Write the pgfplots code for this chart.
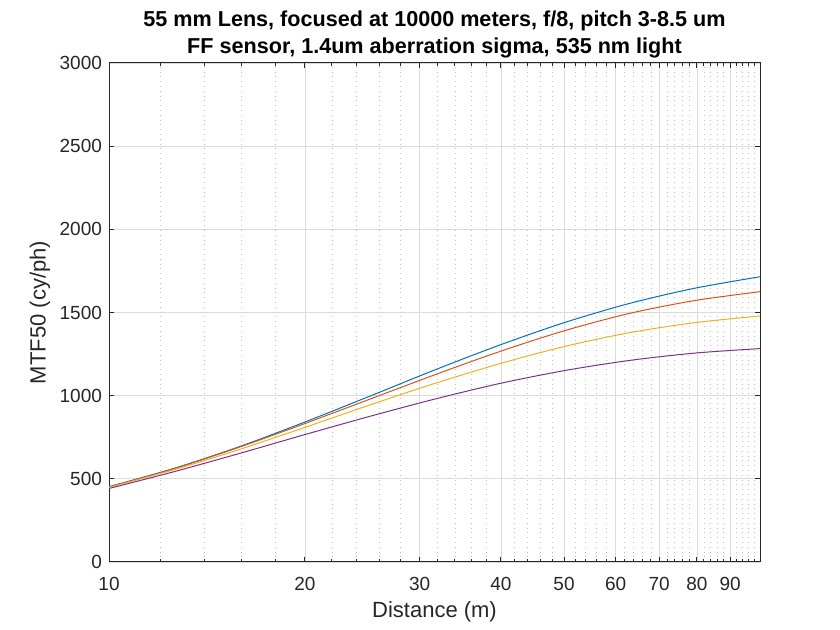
\documentclass[border=0pt]{standalone}
\usepackage{pgfplots}
\pgfplotsset{compat=1.18}
\usepackage{pgfplotstable}
\usepackage{fontspec}
\setmainfont{Liberation Sans}
\definecolor{mblue}{rgb}{0,0.447,0.741}
\definecolor{morange}{rgb}{0.85,0.325,0.098}
\definecolor{myellow}{rgb}{0.929,0.694,0.125}
\definecolor{mpurple}{rgb}{0.494,0.184,0.556}
\definecolor{axgray}{rgb}{0.15,0.15,0.15}
\pgfplotstableread{
d       b     o     y     p
10      453   451   449   442
12.589  563   561   555   543
15.849  693   690   676   652
19.953  840   831   808   765
25.119  996   978   943   875
31.623  1154  1125  1073  979
39.811  1304  1265  1192  1073
50.119  1440  1391  1296  1151
63.096  1555  1495  1379  1212
79.433  1646  1572  1439  1256
100     1715  1625  1479  1283
}\datatab
\begin{document}
\begin{tikzpicture}
\useasboundingbox (-54.5pt,-34pt) rectangle (365.5pt,281pt);
\begin{axis}[
  at={(0,0)}, anchor=south west,
  scale only axis, width=325.5pt, height=249.5pt,
  xmode=log, xmin=10, xmax=100, ymin=0, ymax=3000,
  xtick={10,20,30,40,50,60,70,80,90},
  xticklabels={10,20,30,40,50,60,70,80,90},
  minor xtick={12,14,16,18,22,24,26,28,32,34,36,38,42,44,46,48,52,54,56,58,62,64,66,68,72,74,76,78,82,84,86,88,92,94,96,98},
  ytick={0,500,1000,1500,2000,2500,3000},
  scaled y ticks=false,
  yticklabel style={/pgf/number format/1000 sep={}},
  xticklabel style={yshift=-4pt},
  /pgf/number format/assume math mode=true,
  tick label style={font=\fontsize{9.5pt}{11pt}\selectfont, text=axgray},
  tick align=inside,
  major tick length=2.5pt, minor tick length=1.5pt,
  tick style={axgray, line width=0.5pt},
  axis line style={axgray, line width=0.5pt},
  xmajorgrids, ymajorgrids, xminorgrids,
  major grid style={solid, color=black!14, line width=0.4pt},
  minor grid style={dotted, color=black!25, line width=0.4pt},
  xlabel={Distance (m)},
  ylabel={MTF50 (cy/ph)},
  label style={font=\fontsize{11pt}{13pt}\selectfont, text=axgray},
  xlabel style={at={(axis description cs:0.5,-0.1)}, anchor=center},
  ylabel style={at={(axis description cs:-0.106,0.5)}, anchor=center, rotate=0},
  title={55 mm Lens, focused at 10000 meters, f/8, pitch 3-8.5 um\\FF sensor, 1.4um aberration sigma, 535 nm light},
  title style={font=\bfseries\fontsize{10.8pt}{13.5pt}\selectfont, align=center, at={(axis description cs:0.5,1)}, anchor=south, yshift=-7pt},
  every axis plot/.append style={line width=0.5pt, no marks},
]
\addplot[mblue, smooth] table[x=d, y=b] {\datatab};
\addplot[morange, smooth] table[x=d, y=o] {\datatab};
\addplot[myellow, smooth] table[x=d, y=y] {\datatab};
\addplot[mpurple, smooth] table[x=d, y=p] {\datatab};
\end{axis}
\end{tikzpicture}
\end{document}
